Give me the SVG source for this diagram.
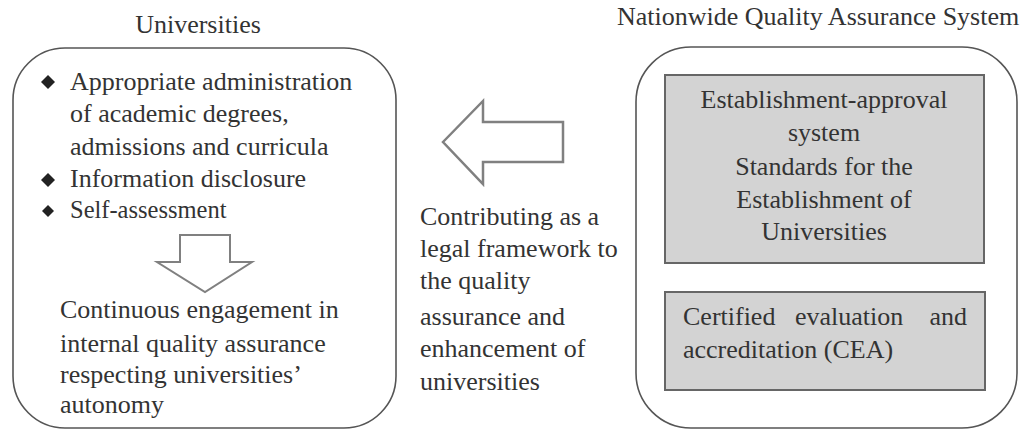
<svg xmlns="http://www.w3.org/2000/svg" width="1027" height="431" viewBox="0 0 1027 431">
<style>
text{font-family:"Liberation Serif","Times New Roman",serif;font-size:26px;fill:#333}
.box{fill:none;stroke:#555;stroke-width:1.6}
.gbox{fill:#d3d3d3;stroke:#666;stroke-width:2}
.arrow{fill:#fff;stroke:#808080;stroke-width:2.5;stroke-linejoin:miter}
.mid{text-anchor:middle}
.dia{fill:#222}
</style>
<rect width="1027" height="431" fill="#fff"/>
<g id="universities">
<text x="198" y="33" class="mid">Universities</text>
<rect class="box" x="13" y="48" width="383" height="380" rx="52"/>
<path class="dia" d="M48 75 L55 82 L48 89 L41 82 Z"/>
<text x="70" y="90">Appropriate administration</text>
<text x="70" y="122">of academic degrees,</text>
<text x="70" y="155">admissions and curricula</text>
<path class="dia" d="M48 173 L55 180 L48 187 L41 180 Z"/>
<text x="70" y="187">Information disclosure</text>
<path class="dia" d="M48 205 L54 211 L48 217 L42 211 Z"/>
<text x="70" y="218" style="font-size:24.5px">Self-assessment</text>
<polygon class="arrow" style="stroke-width:2" points="180,235 230,235 230,262 252,262 205,292 157,262 180,262"/>
<text x="60" y="318">Continuous engagement in</text>
<text x="60" y="352">internal quality assurance</text>
<text x="60" y="383">respecting universities’</text>
<text x="60" y="413">autonomy</text>
</g>
<g id="nationwide">
<text x="617" y="25">Nationwide Quality Assurance System</text>
<rect class="box" x="636" y="47" width="381" height="381" rx="55"/>
</g>
<g id="establishment">
<rect class="gbox" x="665" y="75" width="319" height="188"/>
<text x="824" y="108" class="mid">Establishment-approval</text>
<text x="824" y="141" class="mid">system</text>
<text x="824" y="175" class="mid">Standards for the</text>
<text x="824" y="208" class="mid">Establishment of</text>
<text x="824" y="240" class="mid">Universities</text>
</g>
<g id="cea">
<rect class="gbox" x="665" y="292" width="320" height="98"/>
<text x="683" y="325">Certified</text>
<text x="795" y="325">evaluation</text>
<text x="967" y="325" style="text-anchor:end">and</text>
<text x="683" y="358">accreditation (CEA)</text>
</g>
<g id="connectors">
<polygon class="arrow" points="443,142 483,101 483,122 563,122 563,162 483,162 483,184"/>
</g>
<g id="label">
<text x="420" y="225">Contributing as a</text>
<text x="420" y="257">legal framework to</text>
<text x="420" y="289">the quality</text>
<text x="420" y="325">assurance and</text>
<text x="420" y="357">enhancement of</text>
<text x="420" y="390">universities</text>
</g>
</svg>
